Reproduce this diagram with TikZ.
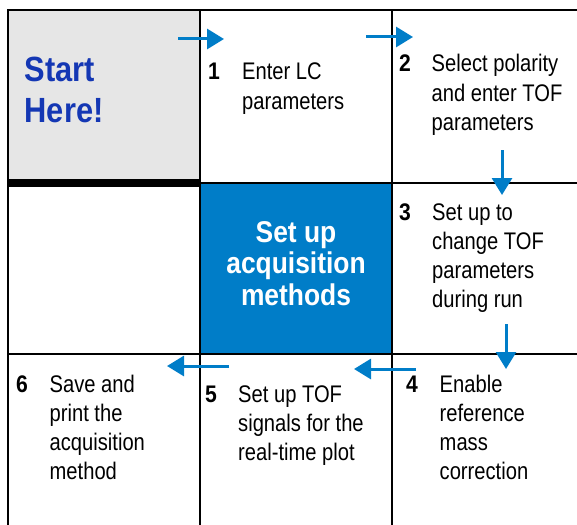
\documentclass[tikz,border=0pt]{standalone}
\usepackage{fontspec}
\setmainfont{Liberation Sans}[FakeStretch=0.84,BoldFeatures={FakeStretch=0.88}]
\usetikzlibrary{arrows.meta}
\definecolor{acqblue}{RGB}{0,125,200}
\definecolor{startblue}{RGB}{20,55,180}
\definecolor{startgray}{RGB}{230,230,230}
\newcommand\steplines[1]{\parbox[t]{150pt}{\raggedright #1}}
\tikzset{
  steptext/.style={anchor=base west,inner sep=0pt,font=\fontsize{24}{29.2}\selectfont},
  stepnum/.style={anchor=base west,inner sep=0pt,font=\fontsize{24}{29.2}\selectfont\bfseries},
  flow/.style={acqblue,line width=3pt,-{Triangle[length=17pt,width=20pt]}},
  cellline/.style={black,line width=2pt}
}
\begin{document}
\begin{tikzpicture}[x=1pt,y=-1pt]
\pgfmathsetmacro{\colA}{8}
\pgfmathsetmacro{\colB}{200}
\pgfmathsetmacro{\colC}{392}
\pgfmathsetmacro{\rowA}{10}
\pgfmathsetmacro{\rowB}{183}
\pgfmathsetmacro{\rowC}{354}
\useasboundingbox (0,0) rectangle (577,524);
\fill[startgray] (\colA,\rowA) rectangle (\colB,\rowB);
\fill[acqblue] (\colB,\rowB) rectangle (\colC,\rowC);
\draw[cellline] (\colA,530) -- (\colA,\rowA) -- (580,\rowA);
\draw[cellline] (\colB,\rowA) -- (\colB,530);
\draw[cellline] (\colC,\rowA) -- (\colC,530);
\draw[cellline] (\colB,\rowB) -- (580,\rowB);
\draw[cellline] (\colA,\rowC) -- (580,\rowC);
\fill[black] (\colA-1,179) rectangle (\colB,187);
\node[anchor=base west,inner sep=0pt,text=startblue,font=\fontsize{35}{40}\selectfont\bfseries] (start) at (24.5,82) {\parbox[t]{160pt}{Start\\Here!}};
\node[anchor=base,inner sep=0pt,text=white,font=\fontsize{30}{31.5}\selectfont\bfseries] (acq) at (296,242) {\parbox[t]{180pt}{\centering Set up\\acquisition\\methods}};
\node[stepnum] (num1) at (208,80) {1};
\node[steptext] (step1) at (242,80) {\steplines{Enter LC\\parameters}};
\node[stepnum] (num2) at (399,72) {2};
\node[steptext] (step2) at (431.5,72) {\steplines{Select polarity\\and enter TOF\\parameters}};
\node[stepnum] (num3) at (399,220) {3};
\node[steptext] (step3) at (432,220) {\steplines{Set up to\\change TOF\\parameters\\during run}};
\node[stepnum] (num4) at (406,392) {4};
\node[steptext] (step4) at (439.5,392) {\steplines{Enable\\reference\\mass\\correction}};
\node[stepnum] (num5) at (205,402) {5};
\node[steptext] (step5) at (238,402) {\steplines{Set up TOF\\signals for the\\real-time plot}};
\node[stepnum] (num6) at (16,392) {6};
\node[steptext] (step6) at (49.5,392) {\steplines{Save and\\print the\\acquisition\\method}};
\coordinate (a1s) at (178,39);
\coordinate (a1e) at (224,39);
\coordinate (a2s) at (366,37);
\coordinate (a2e) at (413,37);
\coordinate (a3s) at (502,150);
\coordinate (a3e) at (502,195);
\coordinate (a4s) at (506,324);
\coordinate (a4e) at (506,369);
\coordinate (a5s) at (416,369);
\coordinate (a5e) at (354,369);
\coordinate (a6s) at (229,366);
\coordinate (a6e) at (167,366);
\draw[flow] (a1s) -- (a1e);
\draw[flow] (a2s) -- (a2e);
\draw[flow] (a3s) -- (a3e);
\draw[flow] (a4s) -- (a4e);
\draw[flow] (a5s) -- (a5e);
\draw[flow] (a6s) -- (a6e);
\end{tikzpicture}
\end{document}
